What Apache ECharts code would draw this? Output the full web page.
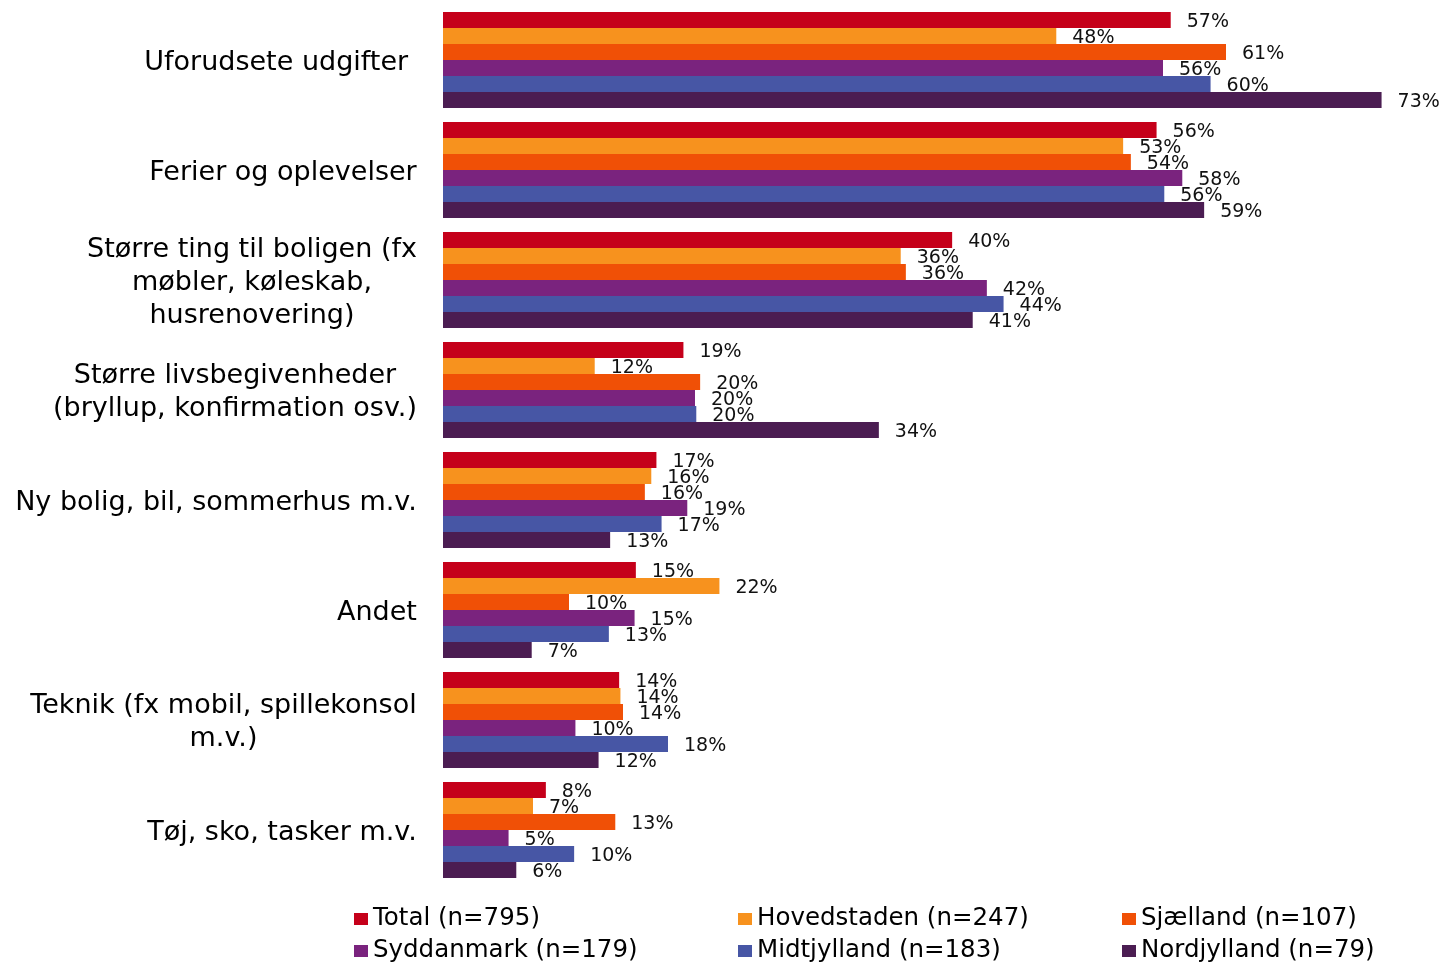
<!DOCTYPE html>
<html>
<head>
<meta charset="utf-8">
<title>Uventede udgifter</title>
<script src="https://cdn.jsdelivr.net/npm/echarts@6/dist/echarts.min.js"></script>
<style>
	html, body { margin: 0; padding: 0; background: #fff; }
	#chart { width: 1443px; height: 963px; }
</style>
</head>
<body>
<div id="chart"></div>
<script>
const FONT = '"DejaVu Sans", Verdana, sans-serif';

const categories = [
	'Uforudsete udgifter ',
	'Ferier og oplevelser',
	'Større ting til boligen (fx\nmøbler, køleskab,\nhusrenovering)',
	'Større livsbegivenheder\n(bryllup, konfirmation osv.)',
	'Ny bolig, bil, sommerhus m.v.',
	'Andet',
	'Teknik (fx mobil, spillekonsol\nm.v.)',
	'Tøj, sko, tasker m.v.'
];

const seriesNames = [
	'Total (n=795)',
	'Hovedstaden (n=247)',
	'Sjælland (n=107)',
	'Syddanmark (n=179)',
	'Midtjylland (n=183)',
	'Nordjylland (n=79)'
];

// procent pr. kategori, læst af søjlerne
const total       = [56.6, 55.5, 39.6, 18.7, 16.6, 15.0, 13.7, 8.0];
const hovedstaden = [47.7, 52.9, 35.6, 11.8, 16.2, 21.5, 13.8, 7.0];
const sjaelland   = [60.9, 53.5, 36.0, 20.0, 15.7, 9.8, 14.0, 13.4];
const syddanmark  = [56.0, 57.5, 42.3, 19.6, 19.0, 14.9, 10.3, 5.1];
const midtjylland = [59.7, 56.1, 43.6, 19.7, 17.0, 12.9, 17.5, 10.2];
const nordjylland = [73.0, 59.2, 41.2, 33.9, 13.0, 6.9, 12.1, 5.7];

const colors = ['#c5001a', '#f7921e', '#f05006', '#7a237e', '#4756a5', '#4b1d52'];

// hver kategoritekst centreres om sin længste linje, blokken højrestilles
const ctx = document.createElement('canvas').getContext('2d');
ctx.font = '27px ' + FONT;
const rich = {};
categories.forEach((c, i) => {
	let w = 0;
	c.split('\n').forEach(l => {
		w = Math.max(w, ctx.measureText(l).width);
	});
	rich['c' + i] = {
		width: Math.ceil(w),
		align: 'center',
		fontSize: 27,
		lineHeight: 33,
		fontFamily: FONT,
		color: '#000'
	};
});

const values = [total, hovedstaden, sjaelland, syddanmark, midtjylland, nordjylland];

const chart = echarts.init(document.getElementById('chart'));

const option = {
	animation: false,
	color: colors,
	textStyle: {
		fontFamily: FONT
	},
	grid: {
		left: 443,
		right: 10,
		top: 5,
		bottom: 78
	},
	legend: {
		left: 354,
		top: 903,
		padding: 0,
		width: 1160,
		itemWidth: 14,
		itemHeight: 12,
		itemGap: 0,
		icon: 'rect',
		textStyle: {
			fontFamily: FONT,
			fontSize: 24.5,
			lineHeight: 32,
			color: '#000',
			width: 365
		},
		data: seriesNames
	},
	xAxis: {
		type: 'value',
		min: 0,
		max: 77,
		show: false
	},
	yAxis: {
		type: 'category',
		inverse: true,
		data: categories,
		axisLine: { show: false },
		axisTick: { show: false },
		axisLabel: {
			margin: 26,
			padding: [5, 0, 0, 0],
			formatter: function (value, index) {
				return value.split('\n').map(l => '{c' + index + '|' + l + '}').join('\n');
			},
			rich: rich
		}
	},
	series: seriesNames.map((name, i) => ({
		name: name,
		type: 'bar',
		barWidth: 16,
		barGap: '0%',
		data: values[i],
		label: {
			show: true,
			position: 'right',
			distance: 16,
			offset: [0, 2],
			fontFamily: FONT,
			fontSize: 19,
			color: '#111',
			formatter: function (p) {
				return Math.round(p.value) + '%';
			}
		}
	}))
};

chart.setOption(option);
</script>
</body>
</html>
